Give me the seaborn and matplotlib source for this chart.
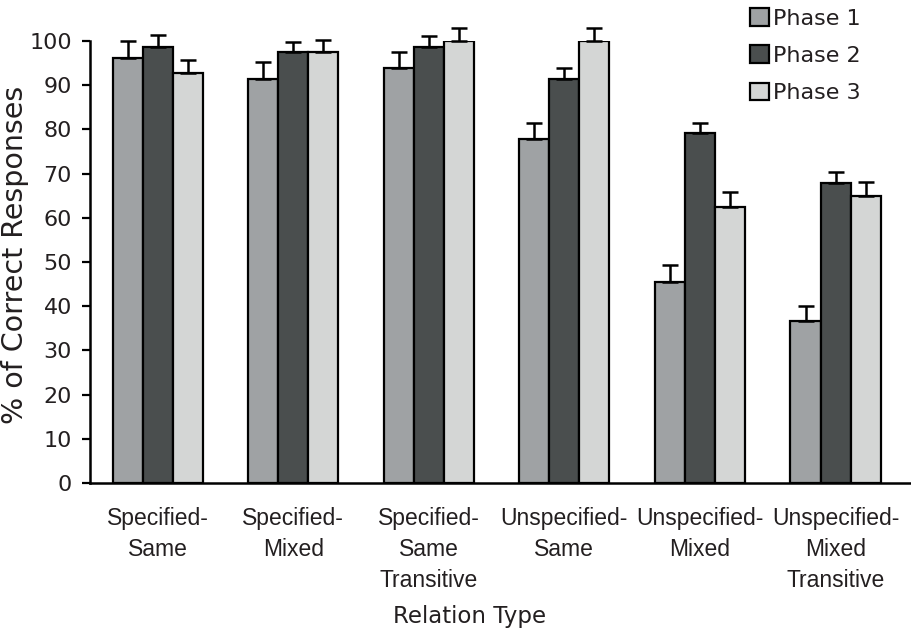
import matplotlib
matplotlib.use("Agg")
import matplotlib.pyplot as plt
from matplotlib.patches import Patch
import seaborn as sns
import pandas as pd
import numpy as np

categories = ["Specified-\nSame", "Specified-\nMixed", "Specified-\nSame\nTransitive",
              "Unspecified-\nSame", "Unspecified-\nMixed", "Unspecified-\nMixed\nTransitive"]
phases = ["Phase 1", "Phase 2", "Phase 3"]
phase1 = [96.1, 91.3, 94.0, 77.8, 45.4, 36.7]
phase2 = [98.6, 97.4, 98.6, 91.3, 79.1, 67.8]
phase3 = [92.7, 97.4, 100.0, 100.0, 62.5, 64.9]
err1 = [3.8, 4.0, 3.4, 3.6, 3.9, 3.4]
err2 = [2.7, 2.4, 2.6, 2.7, 2.3, 2.6]
err3 = [3.0, 2.8, 3.0, 3.0, 3.4, 3.1]
yticks = [0, 10, 20, 30, 40, 50, 60, 70, 80, 90, 100]

colors = ["#9fa2a4", "#4a4e4e", "#d4d6d5"]
txt = "#231f20"

sns.set_style("white")
plt.rcParams['font.family'] = ['DejaVu Sans']

rows = []
for ph, vals, errs in zip(phases, [phase1, phase2, phase3], [err1, err2, err3]):
    for c, v, e in zip(categories, vals, errs):
        rows.append({"Relation": c, "Phase": ph, "Value": v, "Err": e})
df = pd.DataFrame(rows)

fig = plt.figure(figsize=(9.11, 6.34), dpi=100)
ax = fig.add_axes([90/911, 1-483/634, 1-90/911, 442/634])

sns.barplot(data=df, x="Relation", y="Value", hue="Phase", order=categories,
            hue_order=phases, palette=colors, edgecolor="black", linewidth=1.6,
            width=0.664, errorbar=None, ax=ax, legend=False, saturation=1)

for cont, ph in zip(ax.containers, phases):
    sub = df[df.Phase == ph].set_index("Relation").loc[categories]
    xs = [p.get_x() + p.get_width()/2 for p in cont.patches]
    hs = [p.get_height() for p in cont.patches]
    ax.errorbar(xs, hs, yerr=[np.zeros(len(xs)), sub["Err"].values], fmt="none",
                ecolor="black", elinewidth=1.8, capsize=5.8, capthick=1.8,
                clip_on=False, zorder=1)

ax.set_xlim(-0.5, 5.557)
ax.set_ylim(0, 100)
ax.set_yticks(yticks)
ax.set_yticklabels([str(t) for t in yticks], fontsize=16, color=txt)
ax.tick_params(axis="y", length=6, width=1.6, pad=7, left=True, color="black")
ax.tick_params(axis="x", length=0, pad=17)
for lab in ax.get_xticklabels():
    lab.set_fontfamily("Liberation Sans")
    lab.set_fontsize(16.5)
    lab.set_color(txt)
    lab.set_linespacing(1.45)
ax.set_xlabel("Relation Type", fontsize=16.5, color=txt)
ax.xaxis.set_label_coords((470-90)/821, (483-617)/442)
ax.xaxis.label.set_va("center")
ax.set_ylabel("% of Correct Responses", fontsize=20.5, color=txt)
ax.yaxis.set_label_coords((15-90)/821, (483-254.5)/442)
ax.yaxis.label.set_va("center")
sns.despine(ax=ax)
for s in ["left", "bottom"]:
    ax.spines[s].set_linewidth(1.8)
    ax.spines[s].set_color("black")

handles = [Patch(facecolor=c, edgecolor="black", linewidth=1.6) for c in colors]
fig.legend(handles, phases, loc="upper left", bbox_to_anchor=(749/911, 1-7/634),
           frameon=False, fontsize=16, handlelength=0.85, handleheight=0.85,
           handletextpad=0.2, labelspacing=0.75, borderaxespad=0, borderpad=0.05,
           labelcolor=txt)

fig.savefig("out.png", dpi=100)
